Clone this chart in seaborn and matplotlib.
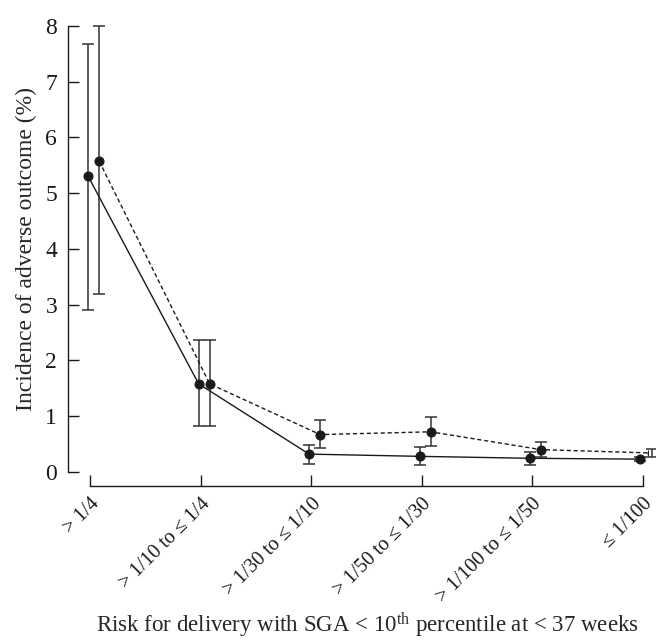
import numpy as np
import pandas as pd
import matplotlib
matplotlib.use("Agg")
import matplotlib.pyplot as plt
import seaborn as sns

# categories on the x axis
categories = ["> 1/4", "> 1/10 to \u2264 1/4", "> 1/30 to \u2264 1/10",
              "> 1/50 to \u2264 1/30", "> 1/100 to \u2264 1/50", "\u2264 1/100"]

# solid series (estimate + CI)
solid_val = [5.30, 1.58, 0.32, 0.28, 0.245, 0.23]
solid_lo = [2.91, 0.82, 0.15, 0.12, 0.13, 0.19]
solid_hi = [7.68, 2.37, 0.48, 0.44, 0.35, 0.26]

# dashed series (estimate + CI)
dashed_val = [5.57, 1.58, 0.67, 0.72, 0.40, 0.34]
dashed_lo = [3.19, 0.82, 0.43, 0.47, 0.26, 0.27]
dashed_hi = [8.00, 2.37, 0.93, 0.99, 0.54, 0.41]

sns.set_style("ticks")
plt.rcParams["font.family"] = ["Liberation Serif", "DejaVu Serif"]
plt.rcParams["mathtext.fontset"] = "custom"
plt.rcParams["mathtext.rm"] = "Liberation Serif"
plt.rcParams["mathtext.it"] = "Liberation Serif:italic"
plt.rcParams["text.color"] = "#222222"

ink = "#1a1a1a"
fs = 17
fs_tick = 14.5

pos = np.arange(len(categories))
df = pd.concat([
    pd.DataFrame({"x": pos - 0.02, "y": solid_val, "series": "solid"}),
    pd.DataFrame({"x": pos + 0.08, "y": dashed_val, "series": "dashed"}),
])

fig = plt.figure(figsize=(6.56, 6.43), dpi=100)
ax = fig.add_axes([0.1041, 0.266, 0.884, 0.694])

sns.lineplot(data=df, x="x", y="y", style="series",
             dashes={"solid": "", "dashed": (3, 2)},
             markers={"solid": "o", "dashed": "o"},
             color=ink, markersize=6.5, linewidth=1.0,
             markeredgecolor=ink, legend=False, ax=ax, zorder=3)

for off, val, lo, hi in [(-0.02, solid_val, solid_lo, solid_hi),
                         (0.08, dashed_val, dashed_lo, dashed_hi)]:
    v = np.array(val)
    err = np.vstack([v - np.array(lo), np.array(hi) - v])
    ax.errorbar(pos + off, v, yerr=err, fmt="none", ecolor="#333333",
                elinewidth=1.1, capsize=4, capthick=1.1, clip_on=False, zorder=2)

# spines first (set_position resets the ticks)
sns.despine(ax=ax)
ax.spines["bottom"].set_position(("outward", 10))
ax.spines["bottom"].set_bounds(0, 5)
ax.spines["left"].set_bounds(0, 8)
for s in ["left", "bottom"]:
    ax.spines[s].set_color(ink)
    ax.spines[s].set_linewidth(1.0)

ax.set_xlim(-0.2, 5.05)
ax.set_ylim(0, 8)
ax.set_yticks(range(0, 9))
ax.tick_params(axis="y", direction="in", length=8, width=1.0, pad=8,
               labelsize=fs, colors=ink)
ax.tick_params(axis="x", direction="in", length=8, width=1.0, pad=6,
               labelsize=fs_tick, colors=ink)
ax.set_xticks(pos)
ax.set_xticklabels(categories, rotation=45, ha="right", rotation_mode="anchor")

ax.set_xlabel(r"Risk for delivery with SGA < 10$^{\mathrm{th}}$ percentile at < 37 weeks",
              fontsize=16.5)
ax.xaxis.set_label_coords(0.515, -0.31)
ax.set_ylabel("Incidence of adverse outcome (%)", fontsize=fs, labelpad=6)

fig.savefig("out.png", dpi=100)
